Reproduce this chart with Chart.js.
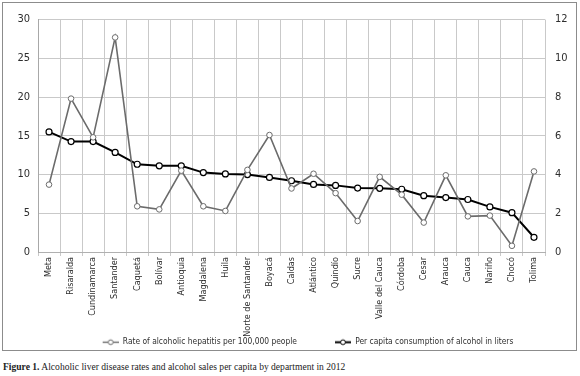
<!DOCTYPE html>
<html>
<head>
<meta charset="utf-8">
<script src="https://cdn.jsdelivr.net/npm/chart.js@4"></script>
<style>
  body { margin: 0; background: #fff; width: 580px; height: 376px; position: relative; overflow: hidden; }
  #box { position: absolute; left: 2px; top: 2px; width: 573px; height: 347px; border: 1px solid #8c8c8c; }
  #caption { position: absolute; left: 3px; top: 361px; font-family: "Liberation Serif", "DejaVu Serif", serif; font-size: 10.5px; color: #222; white-space: nowrap; transform: scaleX(0.91); transform-origin: left top; }
</style>
</head>
<body>
<div id="box"><canvas id="grafico" width="573" height="347"></canvas></div>
<div id="caption"><b>Figure 1.</b> Alcoholic liver disease rates and alcohol sales per capita by department in 2012</div>
<script>
  // Dados
  const departamentos = ["Meta", "Risaralda", "Cundinamarca", "Santander", "Caquetá", "Bolívar", "Antioquia",
    "Magdalena", "Huila", "Norte de Santander", "Boyacá", "Caldas", "Atlántico", "Quindío", "Sucre",
    "Valle del Cauca", "Córdoba", "Cesar", "Arauca", "Cauca", "Nariño", "Chocó", "Tolima"];
  const hepatite = [8.7, 19.8, 14.8, 27.7, 5.9, 5.5, 10.5, 5.9, 5.3, 10.6, 15.1, 8.2, 10.1, 7.6, 4.0,
    9.7, 7.4, 3.8, 9.9, 4.6, 4.7, 0.8, 10.4];
  const consumo = [6.2, 5.7, 5.7, 5.14, 4.53, 4.45, 4.45, 4.1, 4.03, 4.0, 3.85, 3.68, 3.49, 3.44, 3.3,
    3.29, 3.24, 2.91, 2.81, 2.71, 2.33, 2.03, 0.76];
  const ticksEsq = [0, 5, 10, 15, 20, 25, 30];
  const ticksDir = [0, 2, 4, 6, 8, 10, 12];
  const legenda = ["Rate of alcoholic hepatitis per 100,000 people", "Per capita consumption of alcohol in liters"];

  const fonte = "'DejaVu Sans Condensed', 'Liberation Sans', sans-serif";
  const corTexto = "#2e2e2e";

  // simbolo da legenda: linha com circulo, com espaco vazio a esquerda (separa os itens)
  const ESPACO = 37, SIMB = 16;
  function simbolo(cor, largura) {
    const c = document.createElement("canvas");
    c.width = ESPACO + SIMB; c.height = 9;
    const g = c.getContext("2d");
    g.strokeStyle = cor; g.lineWidth = largura;
    g.beginPath(); g.moveTo(ESPACO, 4.5); g.lineTo(ESPACO + SIMB, 4.5); g.stroke();
    g.fillStyle = "#fff"; g.lineWidth = 1;
    g.beginPath(); g.arc(ESPACO + SIMB / 2, 4.5, 2.4, 0, Math.PI * 2); g.fill(); g.stroke();
    return c;
  }

  new Chart(document.getElementById("grafico"), {
    type: "line",
    data: {
      labels: departamentos,
      datasets: [
        {
          label: legenda[0],
          data: hepatite,
          yAxisID: "y",
          borderColor: "#6b6b6b",
          borderWidth: 1.6,
          pointRadius: 2.8,
          pointBorderWidth: 1,
          pointBorderColor: "#6b6b6b",
          pointBackgroundColor: "#fff",
          tension: 0
        },
        {
          label: legenda[1],
          data: consumo,
          yAxisID: "y2",
          borderColor: "#000",
          borderWidth: 2,
          pointRadius: 3,
          pointBorderWidth: 1.2,
          pointBorderColor: "#000",
          pointBackgroundColor: "#fff",
          tension: 0
        }
      ]
    },
    options: {
      responsive: false,
      animation: false,
      layout: { padding: { left: 0, right: 0, top: 7, bottom: 0 } },
      plugins: {
        tooltip: { enabled: false },
        legend: {
          position: "bottom",
          maxHeight: 13,
          labels: {
            usePointStyle: true,
            pointStyleWidth: ESPACO + SIMB,
            padding: 1,
            color: corTexto,
            font: { family: fonte, size: 8.4 },
            generateLabels: (chart) => chart.data.datasets.map((ds, i) => ({
              text: ds.label,
              pointStyle: i === 0 ? simbolo("#6b6b6b", 1.4) : simbolo("#000", 2),
              fillStyle: "#fff",
              strokeStyle: ds.borderColor,
              lineWidth: 0,
              fontColor: corTexto,
              datasetIndex: i
            }))
          }
        }
      },
      scales: {
        x: {
          offset: true,
          grid: {
            offset: true,
            color: (ctx) => ctx.index === departamentos.length ? "rgba(0,0,0,0)" : "#c9c9c9",
            lineWidth: 1,
            tickLength: 4
          },
          border: { color: "#b0b0b0" },
          ticks: {
            minRotation: 90,
            maxRotation: 90,
            autoSkip: false,
            padding: 1,
            color: corTexto,
            font: { family: fonte, size: 9 }
          },
          afterFit: (s) => { s.height = 85; }
        },
        y: {
          position: "left",
          min: 0, max: 30,
          afterBuildTicks: (s) => { s.ticks = ticksEsq.map(v => ({ value: v })); },
          grid: { color: "#c9c9c9", drawTicks: false },
          border: { color: "#a8a8a8" },
          ticks: { padding: 8, color: corTexto, font: { family: fonte, size: 11 } },
          afterFit: (s) => { s.width = 35; }
        },
        y2: {
          position: "right",
          min: 0, max: 12,
          afterBuildTicks: (s) => { s.ticks = ticksDir.map(v => ({ value: v })); },
          grid: { drawOnChartArea: false, drawTicks: false },
          border: { display: false },
          ticks: { padding: 10, color: corTexto, font: { family: fonte, size: 11 } },
          afterFit: (s) => { s.width = 31; }
        }
      }
    }
  });
</script>
</body>
</html>
